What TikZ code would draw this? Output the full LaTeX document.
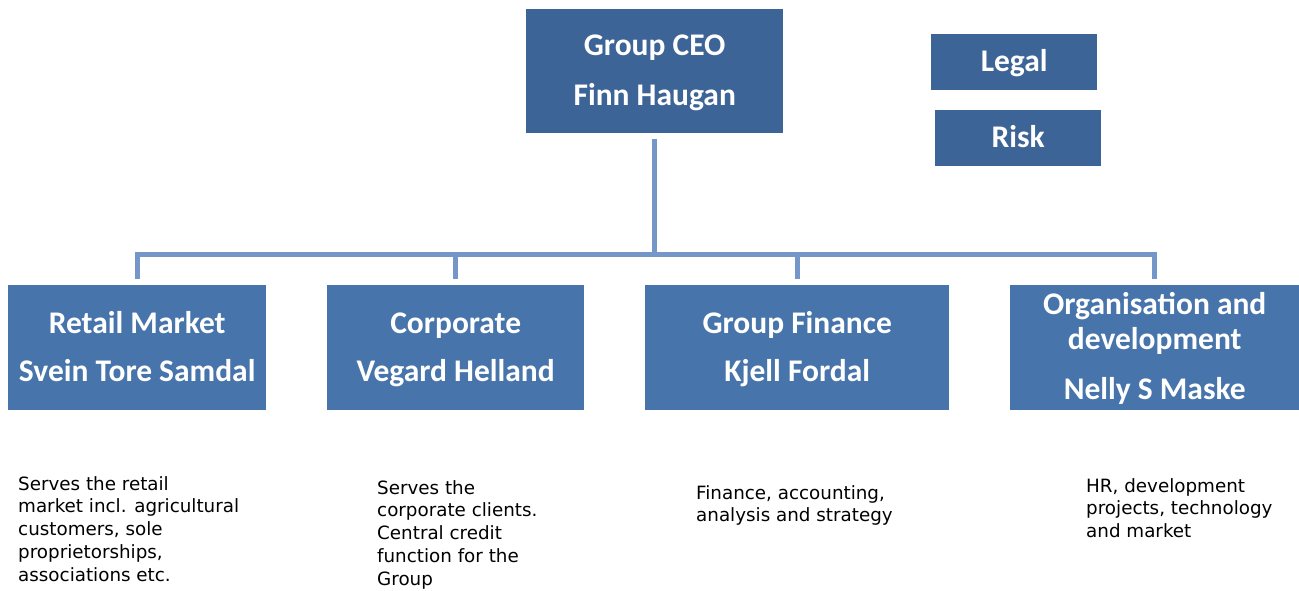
\documentclass[tikz,border=0pt]{standalone}
\usepackage{fontspec}
\setmainfont{Carlito}
\newfontfamily\descfont{DejaVu Sans}
\definecolor{topblue}{RGB}{61,100,150}
\definecolor{unitblue}{RGB}{71,116,170}
\definecolor{linkblue}{RGB}{117,150,200}
\newcommand\boxlines[1]{\strut#1\strut}
\newcommand\smallstrut{\rule[-10pt]{0pt}{39pt}}
\tikzset{
  boxtext/.style={text=white, font=\bfseries\fontsize{31.5}{48}\selectfont, align=center, inner sep=0pt, anchor=north west},
  headbox/.style={boxtext, fill=topblue},
  unitbox/.style={boxtext, fill=unitblue},
  desc/.style={font=\descfont\fontsize{18.3}{22.8}\selectfont, align=left, inner sep=0pt, anchor=base west, text=black},
  conn/.style={draw=linkblue, line width=5pt, line join=miter}
}
\begin{document}
\begin{tikzpicture}[x=1pt,y=-1pt]
\useasboundingbox (0,0) rectangle (1299,590);
% top boxes
\node[headbox, minimum width=257pt, minimum height=124pt] (ceo) at (526,9) {\boxlines{Group CEO\\[2pt]Finn Haugan}};
\node[headbox, minimum width=166pt, minimum height=56pt] (legal) at (931,34) {\boxlines{Legal}};
\node[headbox, minimum width=166pt, minimum height=56pt] (risk) at (935,110) {\boxlines{Risk}};
% unit boxes
\node[unitbox, minimum width=258pt, minimum height=125pt] (retail) at (8,285) {\boxlines{Retail Market\\Svein Tore Samdal}};
\node[unitbox, minimum width=257pt, minimum height=125pt] (corp) at (327,285) {\boxlines{Corporate\\Vegard Helland}};
\node[unitbox, minimum width=304pt, minimum height=125pt] (fin) at (645,285) {\boxlines{Group Finance\\Kjell Fordal}};
\node[unitbox, minimum width=289pt, minimum height=125pt] (org) at (1010,285) {\smallstrut Organisation and\\[-13pt]development\\[2pt]Nelly S Maske\smallstrut};
% bus
\coordinate (bus) at (654,254.5);
\draw[conn, shorten <=6pt] (ceo.south) -- (ceo.south |- bus);
\draw[conn, shorten <=6pt, shorten >=6pt] (retail.north) -- (retail.north |- bus) -- (org.north |- bus) -- (org.north);
\draw[conn, shorten <=6pt] (corp.north) -- (corp.north |- bus);
\draw[conn, shorten <=6pt] (fin.north) -- (fin.north |- bus);
% descriptions (anchored at the baseline of the last line)
\node[desc] (dretail) at (18,581.2) {Serves the retail\\market incl. agricultural\\customers, sole\\proprietorships,\\associations etc.};
\node[desc] (dcorp) at (377,585.2) {Serves the\\corporate clients.\\Central credit\\function for the\\Group};
\node[desc] (dfin) at (696,521.8) {Finance, accounting,\\analysis and strategy};
\node[desc] (dorg) at (1086,537.6) {HR, development\\projects, technology\\and market};
\end{tikzpicture}
\end{document}
